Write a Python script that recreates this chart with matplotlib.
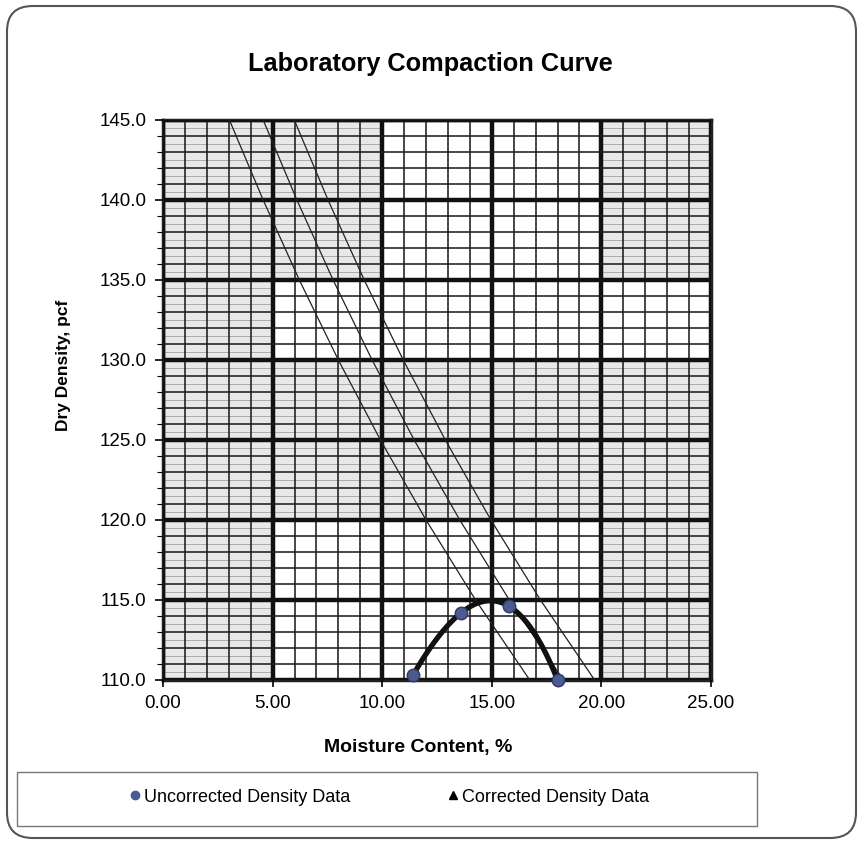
import numpy as np
import matplotlib.pyplot as plt
from matplotlib.patches import Rectangle, FancyBboxPatch
from matplotlib.lines import Line2D

plt.rcParams['font.family'] = ['Liberation Sans', 'DejaVu Sans']

# uncorrected lab points (moisture %, dry density pcf)
moisture = [11.4, 13.6, 15.8, 18.0]
dry_density = [110.3, 114.2, 114.6, 110.0]

# zero-air-voids lines, moisture read at each 5 pcf step
zav_density = [110, 115, 120, 125, 130, 135, 140, 145]
zav_gs250 = [16.73, 14.26, 12.00, 9.92, 8.00, 6.22, 4.57, 3.03]
zav_gs260 = [18.27, 15.80, 13.54, 11.46, 9.54, 7.76, 6.11, 4.57]
zav_gs270 = [19.69, 17.22, 14.96, 12.88, 10.96, 9.18, 7.53, 5.99]

x_ticks = [0, 5, 10, 15, 20, 25]
y_ticks = [110, 115, 120, 125, 130, 135, 140, 145]

# shaded blocks of the grid paper, top row (140-145) first
shade = [
    [1, 1, 0, 0, 1],
    [1, 1, 0, 0, 1],
    [1, 0, 0, 0, 0],
    [1, 1, 1, 1, 1],
    [1, 1, 1, 1, 1],
    [1, 0, 0, 0, 1],
    [1, 0, 0, 0, 1],
]

fig = plt.figure(figsize=(8.59, 8.44), dpi=100)
W, H = 859, 844

# rounded outer frame
frame = FancyBboxPatch((7 / W, 6 / H), 849 / W, 832 / H,
                       boxstyle='round,pad=0,rounding_size=0.03',
                       transform=fig.transFigure, facecolor='none',
                       edgecolor='#555555', lw=1.5, zorder=0)
fig.patches.append(frame)

ax = fig.add_axes([163 / W, (H - 680) / H, 548 / W, 560 / H])
ax.set_zorder(2)
ax.set_xlim(0, 25)
ax.set_ylim(110, 145)

# shaded blocks with faint half-step rules
for r, row in enumerate(shade):
    y0 = 140 - 5 * r
    for c, s in enumerate(row):
        if s:
            x0 = 5 * c
            ax.add_patch(Rectangle((x0, y0), 5, 5, facecolor='#e8e8e8',
                                   edgecolor='none', zorder=0))
            ax.hlines(np.arange(y0 + 0.5, y0 + 5, 1.0), x0, x0 + 5,
                      color='#acacac', lw=0.7, zorder=1)

ax.set_xticks(x_ticks)
ax.set_xticks(np.arange(0, 25.1, 1), minor=True)
ax.set_yticks(y_ticks)
ax.set_yticks(np.arange(110, 145.1, 1), minor=True)
ax.set_xticklabels([f'{v:.2f}' for v in x_ticks])
ax.set_yticklabels([f'{v:.1f}' for v in y_ticks])

ax.grid(which='minor', color='#1e1e1e', lw=1.15, zorder=2)
ax.grid(which='major', color='#111111', lw=3.2, zorder=2)
ax.set_axisbelow(False)
for sp in ax.spines.values():
    sp.set_linewidth(2.5)
    sp.set_color('#222222')

ax.tick_params(axis='y', which='major', length=6, width=1.2, labelsize=13.5, pad=6)
ax.tick_params(axis='y', which='minor', length=4, width=0.8)
ax.tick_params(axis='x', which='major', length=5, width=1.2, labelsize=13.5, pad=6)
ax.tick_params(axis='x', which='minor', length=0)

# zero-air-voids lines
for zav in (zav_gs250, zav_gs260, zav_gs270):
    ax.plot(zav, zav_density, color='#222222', lw=0.9, zorder=3)

# order-3 trendline through the lab points
coef = np.polyfit(moisture, dry_density, 3)
xs = np.linspace(min(moisture), max(moisture), 200)
ax.plot(xs, np.polyval(coef, xs), color='#111111', lw=3.8, zorder=4,
        solid_capstyle='round')
ax.plot(moisture, dry_density, 'o', color='#4b5b8f', markersize=9,
        markeredgecolor='#2e3a66', zorder=5, clip_on=False)
ax.plot([], [], '^', color='black')

ax.set_title('Laboratory Compaction Curve', fontsize=18.3, fontweight='bold',
             pad=35, x=0.487)
ax.set_xlabel('Moisture Content, %', fontsize=14, fontweight='bold')
ax.set_ylabel('Dry Density, pcf', fontsize=12.5, fontweight='bold')
ax.xaxis.set_label_coords(0.465, -0.106)
ax.yaxis.set_label_coords(-0.168, 0.561)

# legend box along the bottom
fig.patches.append(Rectangle((17 / W, (H - 826) / H), 740 / W, 54 / H,
                             transform=fig.transFigure, facecolor='white',
                             edgecolor='#777777', lw=1.0, zorder=1))
handles = [
    Line2D([], [], ls='none', marker='o', color='#4b5b8f', markersize=6),
    Line2D([], [], ls='none', marker='^', color='black', markersize=6),
]
fig.legend(handles, ['Uncorrected Density Data', 'Corrected Density Data'],
           loc='center', bbox_to_anchor=(389 / W, (H - 797) / H), ncol=2,
           frameon=False, fontsize=13, handlelength=0.6, handletextpad=0.2,
           columnspacing=5.4)

fig.savefig('out.png', dpi=100)
